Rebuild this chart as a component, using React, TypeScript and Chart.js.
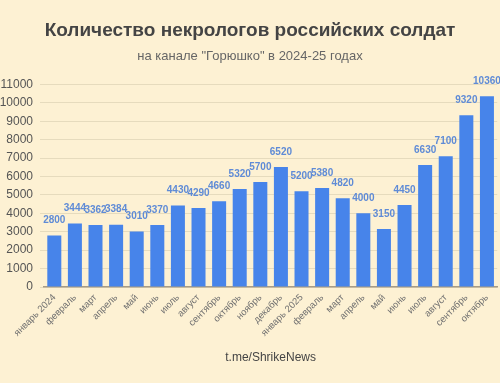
import React, { useEffect, useRef } from "react";
import { Chart, registerables } from "chart.js";

Chart.register(...registerables);

const months: string[] = [
  "январь 2024", "февраль", "март", "апрель", "май", "июнь", "июль", "август",
  "сентябрь", "октябрь", "ноябрь", "декабрь", "январь 2025", "февраль", "март",
  "апрель", "май", "июнь", "июль", "август", "сентябрь", "октябрь",
];
const obituaries: number[] = [
  2800, 3444, 3362, 3384, 3010, 3370, 4430, 4290, 4660, 5320, 5700, 6520,
  5200, 5380, 4820, 4000, 3150, 4450, 6630, 7100, 9320, 10360,
];
const titleText = "Количество некрологов российских солдат";
const subtitleText = 'на канале "Горюшко" в 2024-25 годах';
const sourceText = "t.me/ShrikeNews";

const BG = "#fdf1d3";
const FONT = "'Liberation Sans', Arial, sans-serif";

const valueLabels = {
  id: "valueLabels",
  afterDatasetsDraw(chart: any) {
    const ctx = chart.ctx;
    const meta = chart.getDatasetMeta(0);
    ctx.save();
    ctx.font = `bold 10px ${FONT}`;
    ctx.fillStyle = "#5f8bd6";
    ctx.textAlign = "center";
    ctx.textBaseline = "middle";
    meta.data.forEach((bar: any, i: number) => {
      ctx.fillText(String(obituaries[i]), bar.x, bar.y - 15);
    });
    ctx.restore();
  },
};

const bgPlugin = {
  id: "bgFill",
  beforeDraw(chart: any) {
    const ctx = chart.ctx;
    ctx.save();
    ctx.fillStyle = BG;
    ctx.fillRect(0, 0, chart.width, chart.height);
    ctx.restore();
  },
};

export default function App() {
  const ref = useRef<HTMLCanvasElement>(null);
  useEffect(() => {
    document.body.style.margin = "0";
    document.body.style.background = BG;
    const chart = new Chart(ref.current!, {
      type: "bar",
      data: {
        labels: months,
        datasets: [
          {
            data: obituaries,
            backgroundColor: "#4784ea",
            categoryPercentage: 1,
            barPercentage: 0.68,
          },
        ],
      },
      options: {
        responsive: false,
        animation: false,
        layout: { padding: { left: 0, right: 0, top: 0, bottom: 0 } },
        plugins: {
          legend: { display: false },
          tooltip: { enabled: false },
          title: {
            display: true,
            text: titleText,
            color: "#444444",
            font: { family: FONT, size: 19, weight: "bold" },
            padding: { top: 19, bottom: 7 },
          },
          subtitle: {
            display: true,
            text: subtitleText,
            color: "#666666",
            font: { family: FONT, size: 13 },
            padding: { top: 0, bottom: 20 },
          },
        },
        scales: {
          x: {
            grid: { display: false, drawTicks: false },
            border: { display: true, color: "#a89c86", width: 1.5 },
            ticks: {
              color: "#707070",
              font: { family: FONT, size: 9.5 },
              minRotation: 45,
              maxRotation: 45,
              autoSkip: false,
              padding: 5,
            },
            title: {
              display: true,
              text: sourceText,
              color: "#444444",
              font: { family: FONT, size: 12 },
              padding: { top: 0, bottom: 18 },
            },
            afterFit(scale: any) {
              scale.height = 96;
            },
          },
          y: {
            min: 0,
            max: 11000,
            grid: { color: "#e6dbbd", tickLength: 4, drawTicks: true },
            border: { display: false },
            ticks: {
              stepSize: 1000,
              color: "#555555",
              font: { family: FONT, size: 12 },
              padding: 7,
              callback: (v: any) => String(v),
            },
            afterFit(scale: any) {
              scale.width = 44;
            },
          },
        },
      },
      plugins: [bgPlugin, valueLabels],
    });
    return () => chart.destroy();
  }, []);
  return <canvas ref={ref} width={500} height={383} style={{ display: "block" }} />;
}
